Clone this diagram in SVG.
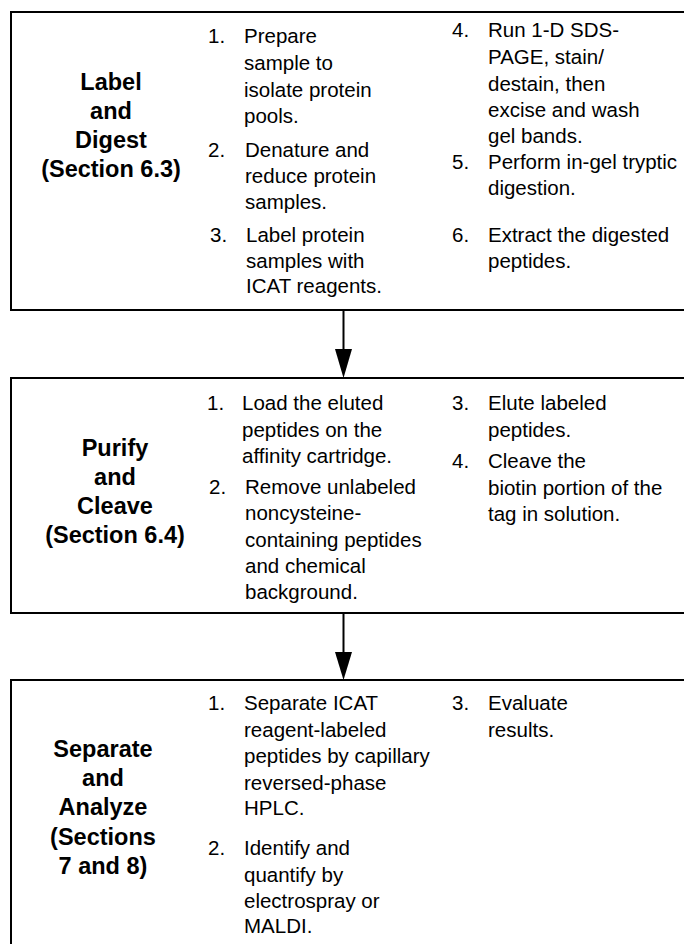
<svg xmlns="http://www.w3.org/2000/svg" width="684" height="944" viewBox="0 0 684 944">
<style>
.box{fill:#fff;stroke:#000;stroke-width:2}
.lbl{font-family:"Liberation Sans",Arial,sans-serif;font-weight:bold;font-size:23.5px;text-anchor:middle;fill:#000}
.t{font-family:"Liberation Sans",Arial,sans-serif;font-size:20.5px;fill:#000}
.ln{stroke:#000;stroke-width:2;fill:none}
</style>
<defs>
<marker id="ah" markerWidth="17" markerHeight="29" refX="8.5" refY="29" orient="auto" markerUnits="userSpaceOnUse" viewBox="0 0 17 29">
<path d="M0,0 L17,0 L8.5,29 Z" fill="#000"/>
</marker>
</defs>
<rect width="684" height="944" fill="#fff"/>
<g id="node-label-digest">
<rect class="box" x="11" y="12" width="700" height="298"/>
<text class="lbl" x="111" y="90">Label</text>
<text class="lbl" x="111" y="119">and</text>
<text class="lbl" x="111" y="148">Digest</text>
<text class="lbl" x="111" y="177">(Section 6.3)</text>
<text class="t" x="208" y="43">1.</text>
<text class="t" x="244" y="43">Prepare</text>
<text class="t" x="244" y="70">sample to</text>
<text class="t" x="244" y="97">isolate protein</text>
<text class="t" x="244" y="123">pools.</text>
<text class="t" x="208" y="157">2.</text>
<text class="t" x="245" y="157">Denature and</text>
<text class="t" x="245" y="183">reduce protein</text>
<text class="t" x="245" y="209">samples.</text>
<text class="t" x="210" y="242">3.</text>
<text class="t" x="246" y="242">Label protein</text>
<text class="t" x="246" y="268">samples with</text>
<text class="t" x="246" y="293">ICAT reagents.</text>
<text class="t" x="452" y="37">4.</text>
<text class="t" x="488" y="37">Run 1-D SDS-</text>
<text class="t" x="488" y="64">PAGE, stain/</text>
<text class="t" x="488" y="91">destain, then</text>
<text class="t" x="488" y="117">excise and wash</text>
<text class="t" x="488" y="143">gel bands.</text>
<text class="t" x="452" y="169">5.</text>
<text class="t" x="488" y="169">Perform in-gel tryptic</text>
<text class="t" x="488" y="195">digestion.</text>
<text class="t" x="452" y="242">6.</text>
<text class="t" x="488" y="242">Extract the digested</text>
<text class="t" x="488" y="268">peptides.</text>
</g>
<g id="node-purify-cleave">
<rect class="box" x="11" y="378" width="700" height="235"/>
<text class="lbl" x="115" y="456">Purify</text>
<text class="lbl" x="115" y="485">and</text>
<text class="lbl" x="115" y="514">Cleave</text>
<text class="lbl" x="115" y="543">(Section 6.4)</text>
<text class="t" x="207" y="410">1.</text>
<text class="t" x="242" y="410">Load the eluted</text>
<text class="t" x="242" y="437">peptides on the</text>
<text class="t" x="242" y="463">affinity cartridge.</text>
<text class="t" x="209" y="494">2.</text>
<text class="t" x="245" y="494">Remove unlabeled</text>
<text class="t" x="245" y="520">noncysteine-</text>
<text class="t" x="245" y="547">containing peptides</text>
<text class="t" x="245" y="573">and chemical</text>
<text class="t" x="245" y="599">background.</text>
<text class="t" x="452" y="410">3.</text>
<text class="t" x="488" y="410">Elute labeled</text>
<text class="t" x="488" y="437">peptides.</text>
<text class="t" x="452" y="468">4.</text>
<text class="t" x="488" y="468">Cleave the</text>
<text class="t" x="488" y="495">biotin portion of the</text>
<text class="t" x="488" y="521">tag in solution.</text>
</g>
<g id="node-separate-analyze">
<rect class="box" x="11" y="680" width="700" height="290"/>
<text class="lbl" x="103" y="757">Separate</text>
<text class="lbl" x="103" y="786">and</text>
<text class="lbl" x="103" y="815">Analyze</text>
<text class="lbl" x="103" y="845">(Sections</text>
<text class="lbl" x="103" y="874">7 and 8)</text>
<text class="t" x="208" y="710">1.</text>
<text class="t" x="244" y="710">Separate ICAT</text>
<text class="t" x="244" y="737">reagent-labeled</text>
<text class="t" x="244" y="763">peptides by capillary</text>
<text class="t" x="244" y="790">reversed-phase</text>
<text class="t" x="244" y="815">HPLC.</text>
<text class="t" x="208" y="855">2.</text>
<text class="t" x="244" y="855">Identify and</text>
<text class="t" x="244" y="882">quantify by</text>
<text class="t" x="244" y="908">electrospray or</text>
<text class="t" x="244" y="933">MALDI.</text>
<text class="t" x="452" y="710">3.</text>
<text class="t" x="488" y="710">Evaluate</text>
<text class="t" x="488" y="737">results.</text>
</g>
<g id="connectors">
<line class="ln" x1="343.5" y1="310" x2="343.5" y2="350" />
<path d="M335,349 L352,349 L343.5,378 Z" fill="#000"/>
<line class="ln" x1="343.5" y1="613" x2="343.5" y2="653" />
<path d="M335,652 L352,652 L343.5,680 Z" fill="#000"/>
</g>
</svg>
